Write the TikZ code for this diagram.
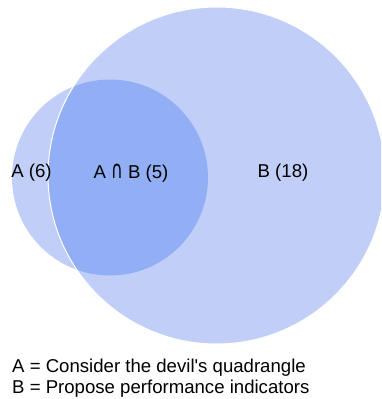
\documentclass[tikz,border=0pt]{standalone}
\usepackage{fontspec}
\usepackage{graphicx}
\setmainfont{Liberation Sans}
\newfontfamily\capfont{DejaVu Sans}
\usetikzlibrary{positioning}
\definecolor{setlight}{RGB}{193,207,248}
\definecolor{setdark}{RGB}{146,174,245}
\newcommand{\setcap}{{\capfont\fontsize{16}{20}\selectfont\scalebox{1}[1.55]{∩}}}

\begin{document}
\begin{tikzpicture}[x=1pt,y=-1pt,font=\fontsize{18.6}{22}\selectfont]
            \useasboundingbox (0,0) rectangle (381,399);
            \clip (0,0) rectangle (381,399);

            % Draw set A
            \fill [setlight] (110,177.5) circle (98);

            % Draw set B
            \fill [setlight] (216.5,175.5) circle (168.5);

            % Highlight A ∩ B
            \begin{scope}
                \clip (110,177.5) circle (98);
                \fill[setdark] (216.5,175.5) circle (168.5);
            \end{scope}
            \draw [white, line width=1pt] (216.5,175.5) circle (168.5);

            \node (labA) at (31.5,173) {A (6)};
            \node (labAB) at (131,173) {A \setcap{} B (5)};
            \node (labB) at (283,173) {B (18)};

            % Legend
            \node [anchor=west, inner sep=0pt] (legA) at (12,368) {A = Consider the devil\textquotesingle s quadrangle};
            \node [anchor=west, inner sep=0pt] (legB) at (12,389) {B = Propose performance indicators};
        \end{tikzpicture}
\end{document}
